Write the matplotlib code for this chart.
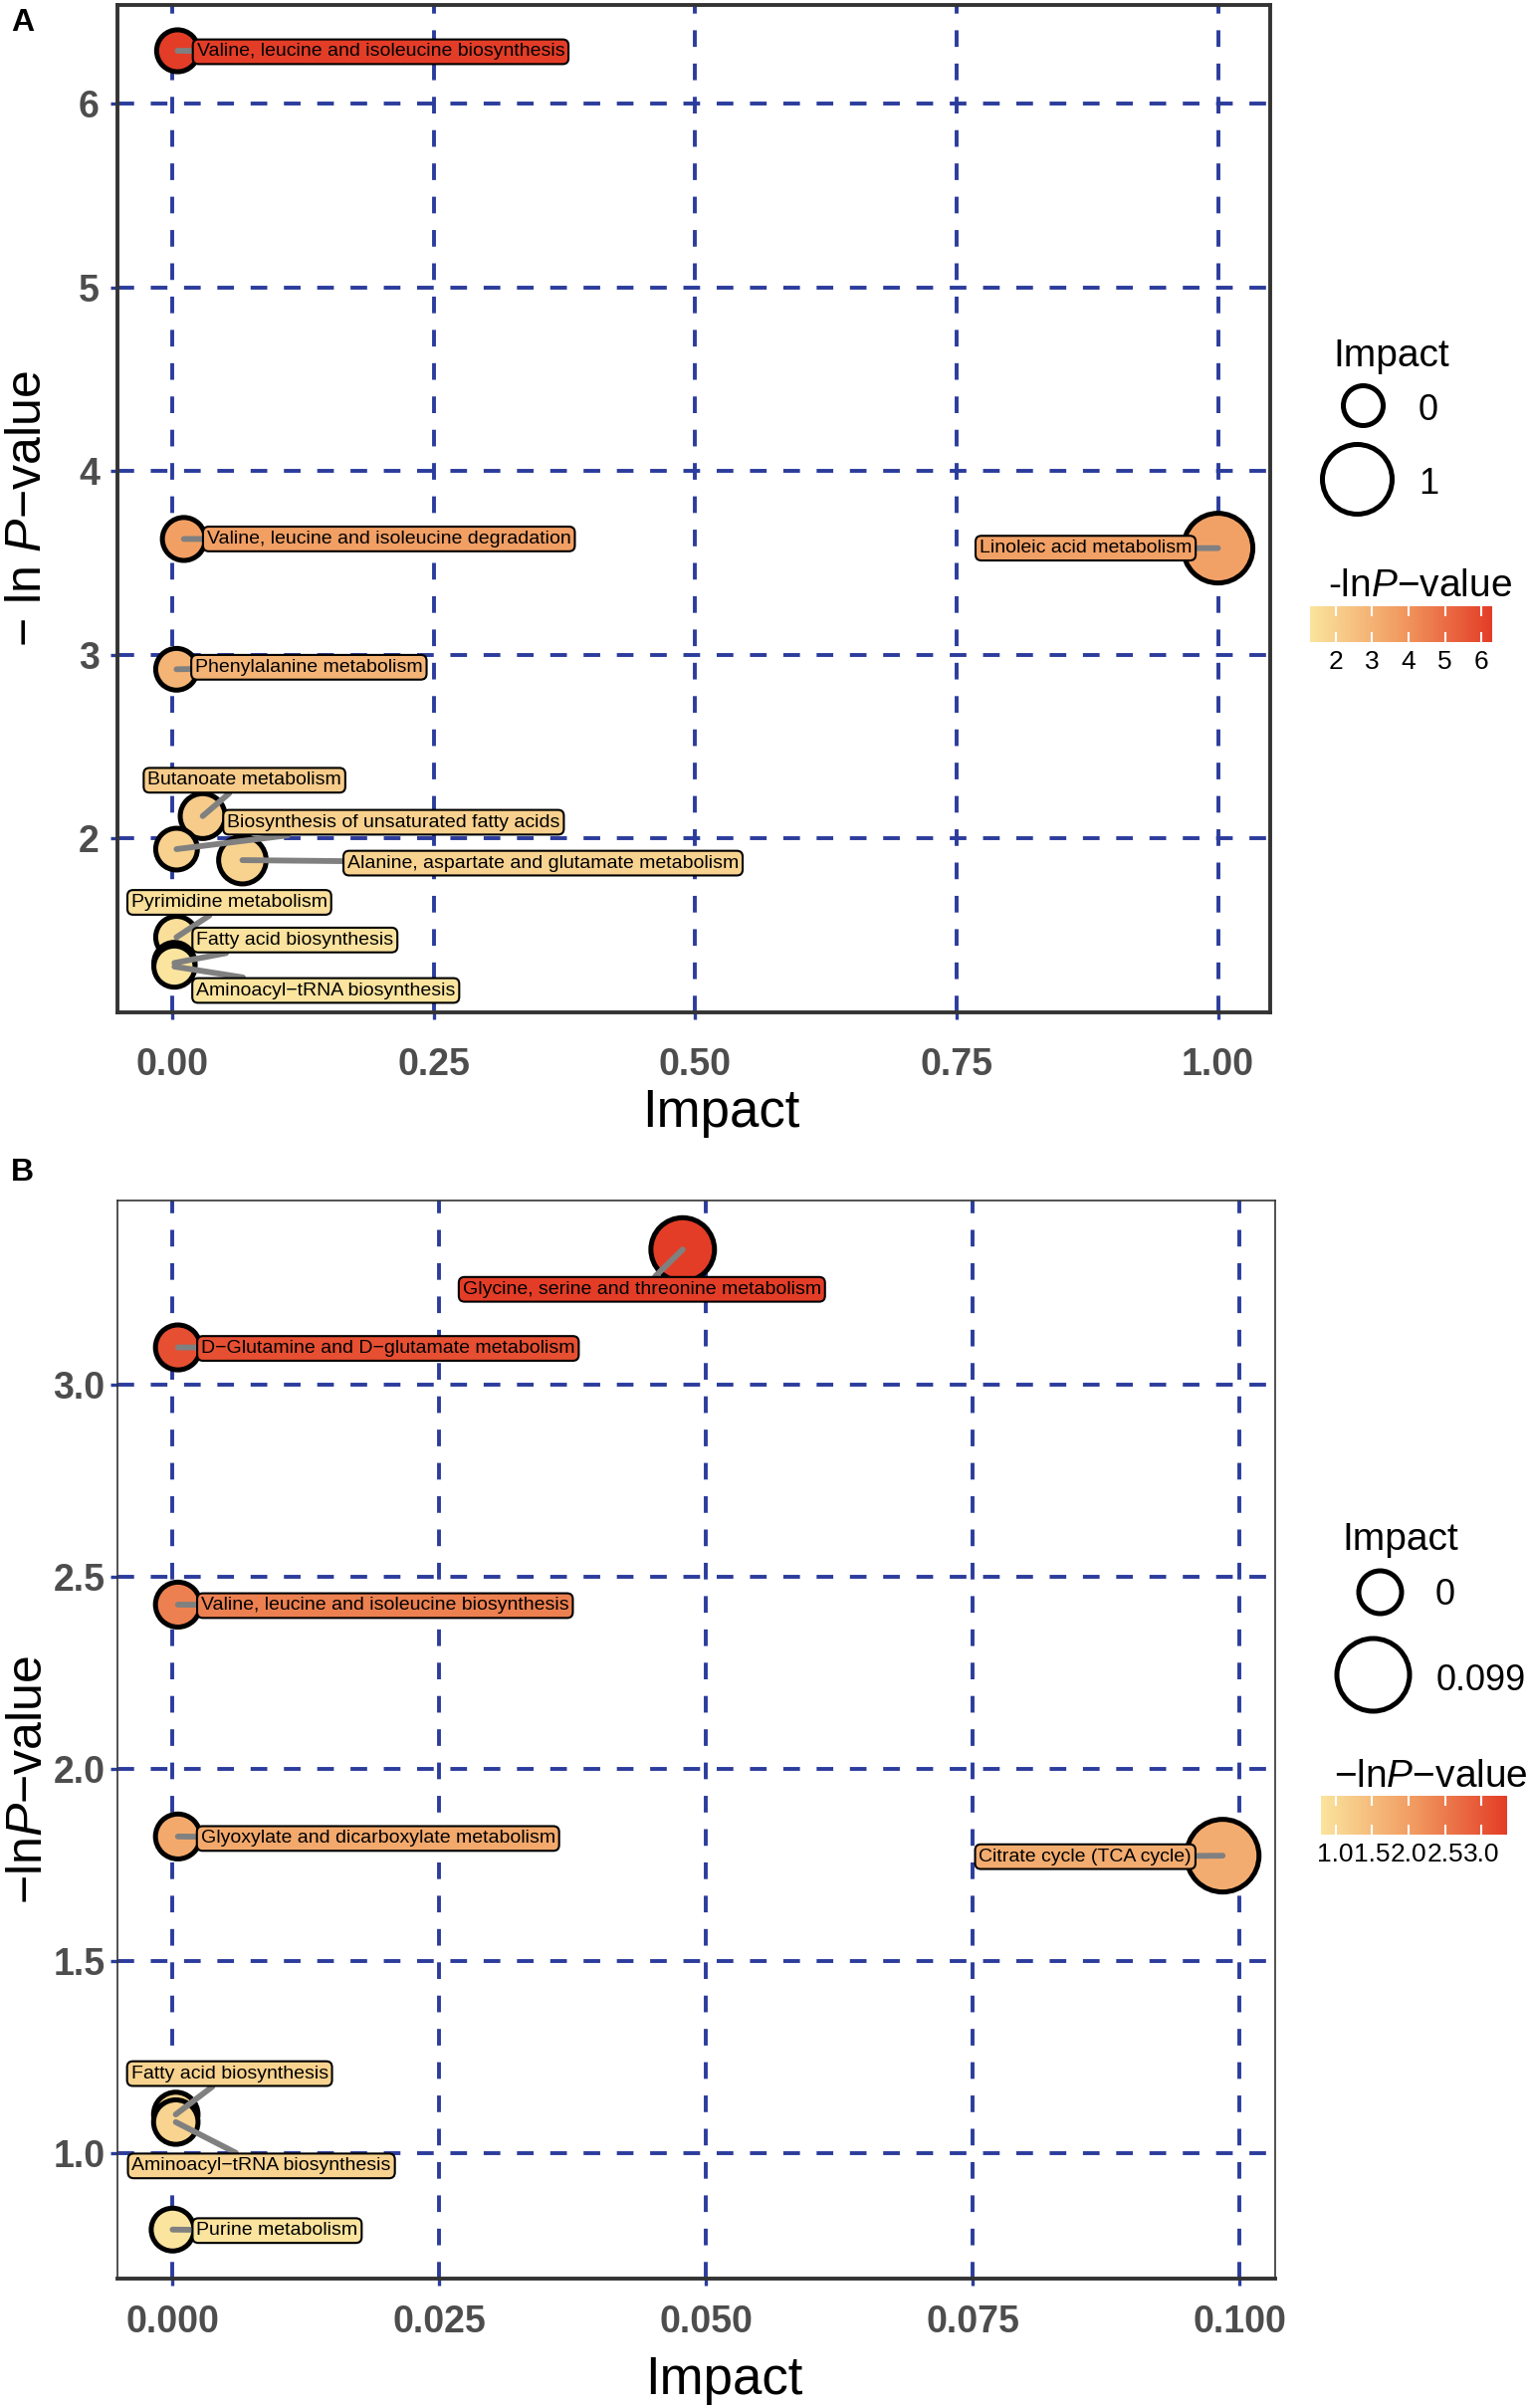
import numpy as np
import matplotlib
matplotlib.use('Agg')
import matplotlib.pyplot as plt
from matplotlib.colors import LinearSegmentedColormap, Normalize
import matplotlib.cm as cm

plt.rcParams['font.family'] = ['Liberation Sans', 'DejaVu Sans']
plt.rcParams['mathtext.fontset'] = 'custom'
plt.rcParams['mathtext.rm'] = 'Liberation Sans'
plt.rcParams['mathtext.it'] = 'Liberation Sans:italic'
plt.rcParams['mathtext.bf'] = 'Liberation Sans:bold'

# ---------------- Data: panel A ----------------
a_pathways = [
    "Valine, leucine and isoleucine biosynthesis",
    "Valine, leucine and isoleucine degradation",
    "Linoleic acid metabolism",
    "Phenylalanine metabolism",
    "Butanoate metabolism",
    "Biosynthesis of unsaturated fatty acids",
    "Alanine, aspartate and glutamate metabolism",
    "Pyrimidine metabolism",
    "Fatty acid biosynthesis",
    "Aminoacyl\u2212tRNA biosynthesis",
]
a_impact = [0.005, 0.011, 1.0, 0.004, 0.029, 0.004, 0.067, 0.004, 0.002, 0.002]
a_neglogp = [6.29, 3.63, 3.58, 2.92, 2.12, 1.94, 1.88, 1.46, 1.32, 1.30]
a_xticks = [0.00, 0.25, 0.50, 0.75, 1.00]
a_xticklabels = ["0.00", "0.25", "0.50", "0.75", "1.00"]
a_yticks = [2, 3, 4, 5, 6]
a_yticklabels = ["2", "3", "4", "5", "6"]
a_size_breaks = [0, 1]
a_size_labels = ["0", "1"]
a_cbar_ticks = [2, 3, 4, 5, 6]
a_cbar_labels = ["2", "3", "4", "5", "6"]

# label offsets from points in pixels (layout only)
a_label_dx = [204, 206, -133, 133, 42, 218, 302, 53, 121, 152]
a_label_dy = [-1, 0, 0, 2, 36, 27, -3, 35, 23, -24]

# ---------------- Data: panel B ----------------
b_pathways = [
    "Glycine, serine and threonine metabolism",
    "D\u2212Glutamine and D\u2212glutamate metabolism",
    "Valine, leucine and isoleucine biosynthesis",
    "Glyoxylate and dicarboxylate metabolism",
    "Citrate cycle (TCA cycle)",
    "Fatty acid biosynthesis",
    "Aminoacyl\u2212tRNA biosynthesis",
    "Purine metabolism",
]
b_impact = [0.0478, 0.0005, 0.0005, 0.0005, 0.0984, 0.0003, 0.0003, 0.0]
b_neglogp = [3.353, 3.098, 2.428, 1.824, 1.774, 1.10, 1.08, 0.80]
b_xticks = [0.000, 0.025, 0.050, 0.075, 0.100]
b_xticklabels = ["0.000", "0.025", "0.050", "0.075", "0.100"]
b_yticks = [1.0, 1.5, 2.0, 2.5, 3.0]
b_yticklabels = ["1.0", "1.5", "2.0", "2.5", "3.0"]
b_size_breaks = [0, 0.0984]
b_size_labels = ["0", "0.099"]
b_cbar_ticks = [1.0, 1.5, 2.0, 2.5, 3.0]
b_cbar_labels = ["1.0", "1.5", "2.0", "2.5", "3.0"]

b_label_dx = [-41, 211, 208, 201, -138, 54, 86, 105]
b_label_dy = [-40, -1, -1, -2, -1, 41, -44, -1]

# ---------------- Styling ----------------
W, H = 1536, 2419
DPI = 100
PX2PT = 72.0 / DPI
GRID_BLUE = "#2B3C9C"
TICK_GREY = "#4D4D4D"
SPINE = "#333333"
cmap = LinearSegmentedColormap.from_list(
    "lowhigh", [(0.0, "#FAE49E"), (0.5, "#F19A60"), (1.0, "#E33D27")])

fig = plt.figure(figsize=(W / DPI, H / DPI), dpi=DPI)


def fr(x0, y0, x1, y1):
    """pixel box (top-left origin) -> figure fraction rect"""
    return [x0 / W, 1 - y1 / H, (x1 - x0) / W, (y1 - y0) / H]


def size_px(imp, imax, d0, d1):
    t = np.clip(np.asarray(imp, float) / imax, 0, 1)
    return d0 + (d1 - d0) * np.sqrt(t)


def expand(vals, f=0.05):
    lo, hi = min(vals), max(vals)
    r = hi - lo
    return lo - f * r, hi + f * r


def panel(rect, names, imp, ylog, dxs, dys, xticks, xtl, yticks, ytl,
          d0, d1, thick_all, xpad, ypad):
    ax = fig.add_axes(rect)
    norm = Normalize(min(ylog), max(ylog))
    cols = [cmap(norm(v)) for v in ylog]
    imax = max(imp)
    d = size_px(imp, imax, d0, d1)
    s = (d * PX2PT) ** 2
    ax.scatter(imp, ylog, s=s, c=cols, edgecolors='black', linewidths=3.6,
               zorder=3)
    for i, nm in enumerate(names):
        ax.annotate(nm, xy=(imp[i], ylog[i]), xytext=(dxs[i], dys[i]),
                    textcoords='offset pixels', ha='center', va='center',
                    fontsize=14, color='black', zorder=5,
                    bbox=dict(boxstyle='round,pad=0.2,rounding_size=0.3',
                              fc=cols[i], ec='black', lw=1.5),
                    arrowprops=dict(arrowstyle='-', color='#808080', lw=4.2,
                                    shrinkA=0, shrinkB=0, capstyle='round'))
    lo, hi = expand(imp)
    ax.set_xlim(min(lo, -0.05 * hi), hi)
    ax.set_ylim(*expand(ylog))
    ax.set_xticks(xticks)
    ax.set_xticklabels(xtl)
    ax.set_yticks(yticks)
    ax.set_yticklabels(ytl)
    ax.set_axisbelow(True)
    ax.grid(True, color=GRID_BLUE, lw=2.8, linestyle=(0, (4.3, 4.3)))
    ax.tick_params(axis='both', colors=GRID_BLUE, length=5, width=2.4,
                   labelcolor=TICK_GREY, labelsize=27)
    ax.tick_params(axis='x', pad=xpad)
    ax.tick_params(axis='y', pad=ypad)
    for lab in ax.get_xticklabels() + ax.get_yticklabels():
        lab.set_fontweight('bold')
    for side, sp in ax.spines.items():
        sp.set_color(SPINE)
        if thick_all or side == 'bottom':
            sp.set_linewidth(2.8)
        else:
            sp.set_linewidth(1.2)
    return ax, norm


# Panel A
axA, normA = panel(fr(118, 5, 1276, 1017), a_pathways, a_impact, a_neglogp,
                   a_label_dx, a_label_dy, a_xticks, a_xticklabels,
                   a_yticks, a_yticklabels, 40, 70, True, 20, 8)
axA.set_xlabel("Impact", fontsize=38)
axA.xaxis.set_label_coords(0.524, -0.075)
axA.set_ylabel("\u2212 ln $\\mathit{P}$\u2212value", fontsize=36)
axA.yaxis.set_label_coords(-0.058, 0.5)

# Panel B
axB, normB = panel(fr(118, 1206, 1281, 2289), b_pathways, b_impact, b_neglogp,
                   b_label_dx, b_label_dy, b_xticks, b_xticklabels,
                   b_yticks, b_yticklabels, 43, 73, False, 14, 4)
axB.set_xlabel("Impact", fontsize=38)
axB.xaxis.set_label_coords(0.524, -0.071)
axB.set_ylabel("\u2212ln$\\mathit{P}$\u2212value", fontsize=36)
axB.yaxis.set_label_coords(-0.057, 0.463)

# Panel letters
fig.text(11 / W, 1 - 8 / H, "A", fontsize=23, fontweight='bold', va='top', ha='left')
fig.text(11 / W, 1 - 1163 / H, "B", fontsize=23, fontweight='bold', va='top', ha='left')

# ---------------- Legends (overlay in pixel coords) ----------------
lg = fig.add_axes([0, 0, 1, 1], zorder=10)
lg.set_xlim(0, W)
lg.set_ylim(H, 0)
lg.axis('off')
lg.patch.set_alpha(0)


def size_legend(title_xy, breaks, labels, imax, d0, d1, circ_xy, lab_xy, lab_ha):
    lg.text(title_xy[0], title_xy[1], "Impact", fontsize=28, ha='center', va='center')
    d = size_px(breaks, imax, d0, d1)
    for i in range(len(breaks)):
        lg.scatter([circ_xy[i][0]], [circ_xy[i][1]], s=(d[i] * PX2PT) ** 2,
                   facecolors='white', edgecolors='black', linewidths=3.6)
        lg.text(lab_xy[i][0], lab_xy[i][1], labels[i], fontsize=26,
                ha=lab_ha[i], va='center')


def color_legend(title, title_xy, box, norm, ticks, labels):
    lg.text(title_xy[0], title_xy[1], title, fontsize=28, ha='center', va='center')
    cax = fig.add_axes(fr(*box))
    cb = fig.colorbar(cm.ScalarMappable(norm=norm, cmap=cmap), cax=cax,
                      orientation='horizontal')
    cb.outline.set_visible(False)
    cb.set_ticks(ticks)
    cb.set_ticklabels(labels)
    cax.xaxis.set_ticks_position('both')
    cax.tick_params(axis='x', direction='in', color='white', length=7, width=1.5,
                    labelsize=19, pad=6, labelcolor='black')


size_legend((1398, 358), a_size_breaks, a_size_labels, max(a_impact), 40, 70,
            [(1369, 407), (1363, 481)], [(1435, 413), (1435, 486)],
            ['center', 'center'])
color_legend("-ln$\\mathit{P}$\u2212value", (1427, 589), (1316, 609, 1499, 645),
             normA, a_cbar_ticks, a_cbar_labels)

size_legend((1407, 1547), b_size_breaks, b_size_labels, max(b_impact), 43, 73,
            [(1386, 1599), (1379, 1682)], [(1452, 1603), (1443, 1688)],
            ['center', 'left'])
color_legend("\u2212ln$\\mathit{P}$\u2212value", (1437, 1785), (1327, 1804, 1514, 1843),
             normB, b_cbar_ticks, b_cbar_labels)

fig.savefig("out.png", dpi=DPI)
